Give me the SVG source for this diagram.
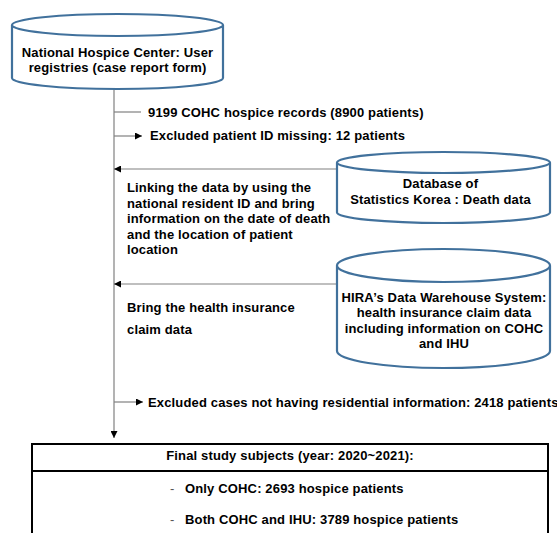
<svg xmlns="http://www.w3.org/2000/svg" width="557" height="533" viewBox="0 0 557 533">
<style>
text{font-family:"Liberation Sans",Arial,sans-serif;font-weight:700;font-size:13px;letter-spacing:0.15px;fill:#000}
.c{text-anchor:middle}
.cyl{fill:#fff;stroke:#41719c;stroke-width:2.2}
.ln{fill:none;stroke:#808080;stroke-width:1.2}
.box{fill:#fff;stroke:#000;stroke-width:2}
.dash{font-weight:400;fill:#555}
</style>
<defs>
<marker id="ah" viewBox="0 0 10 10" refX="10" refY="5" markerWidth="7" markerHeight="7" markerUnits="userSpaceOnUse" orient="auto">
<path d="M0,0 L10,5 L0,10 z" fill="#000"/>
</marker>
</defs>
<g id="connectors">
<path class="ln" d="M114,89 V438" marker-end="url(#ah)"/>
<path class="ln" d="M114,112 H141"/>
<path class="ln" d="M114,136 H142" marker-end="url(#ah)"/>
<path class="ln" d="M337,169 H114" marker-end="url(#ah)"/>
<path class="ln" d="M337,284 H114" marker-end="url(#ah)"/>
<path class="ln" d="M114,402 H143" marker-end="url(#ah)"/>
</g>
<g id="nhc">
<path class="cyl" d="M12,25 V78 A105.5,11 0 0 0 223,78 V25"/>
<ellipse class="cyl" cx="117.5" cy="25" rx="105.5" ry="11"/>
<text class="c" x="117.5" y="57">National Hospice Center: User</text>
<text class="c" x="117.5" y="72">registries (case report form)</text>
</g>
<g id="labels">
<text x="148" y="117">9199 COHC hospice records (8900 patients)</text>
<text x="150" y="140">Excluded patient ID missing: 12 patients</text>
<text x="127" y="192">Linking the data by using the</text>
<text x="127" y="207.5">national resident ID and bring</text>
<text x="127" y="223">information on the date of death</text>
<text x="127" y="238.5">and the location of patient</text>
<text x="127" y="254">location</text>
<text x="127" y="312">Bring the health insurance</text>
<text x="127" y="334">claim data</text>
<text x="148" y="407">Excluded cases not having residential information: 2418 patients</text>
</g>
<g id="db">
<path class="cyl" d="M337,162.5 V212.5 A106.5,10.5 0 0 0 550,212.5 V162.5"/>
<ellipse class="cyl" cx="443.5" cy="162.5" rx="106.5" ry="10.5"/>
<text class="c" x="440.5" y="188">Database of</text>
<text class="c" x="440.5" y="204">Statistics Korea : Death data</text>
</g>
<g id="hira">
<path class="cyl" d="M337,265.5 V351 A106.5,17 0 0 0 550,351 V265.5"/>
<ellipse class="cyl" cx="443.5" cy="265.5" rx="106.5" ry="16.5"/>
<text class="c" x="444" y="302">HIRA’s Data Warehouse System:</text>
<text class="c" x="444" y="317">health insurance claim data</text>
<text class="c" x="444" y="333">including information on COHC</text>
<text class="c" x="444" y="348">and IHU</text>
</g>
<g id="final">
<rect class="box" x="32" y="444" width="516" height="100"/>
<line x1="32" y1="471" x2="548" y2="471" stroke="#000" stroke-width="2"/>
<text class="c" x="290" y="460">Final study subjects (year: 2020~2021):</text>
<text class="dash" x="170" y="493">-</text>
<text x="185" y="493">Only COHC: 2693 hospice patients</text>
<text class="dash" x="170" y="524">-</text>
<text x="185" y="524">Both COHC and IHU: 3789 hospice patients</text>
</g>
</svg>
